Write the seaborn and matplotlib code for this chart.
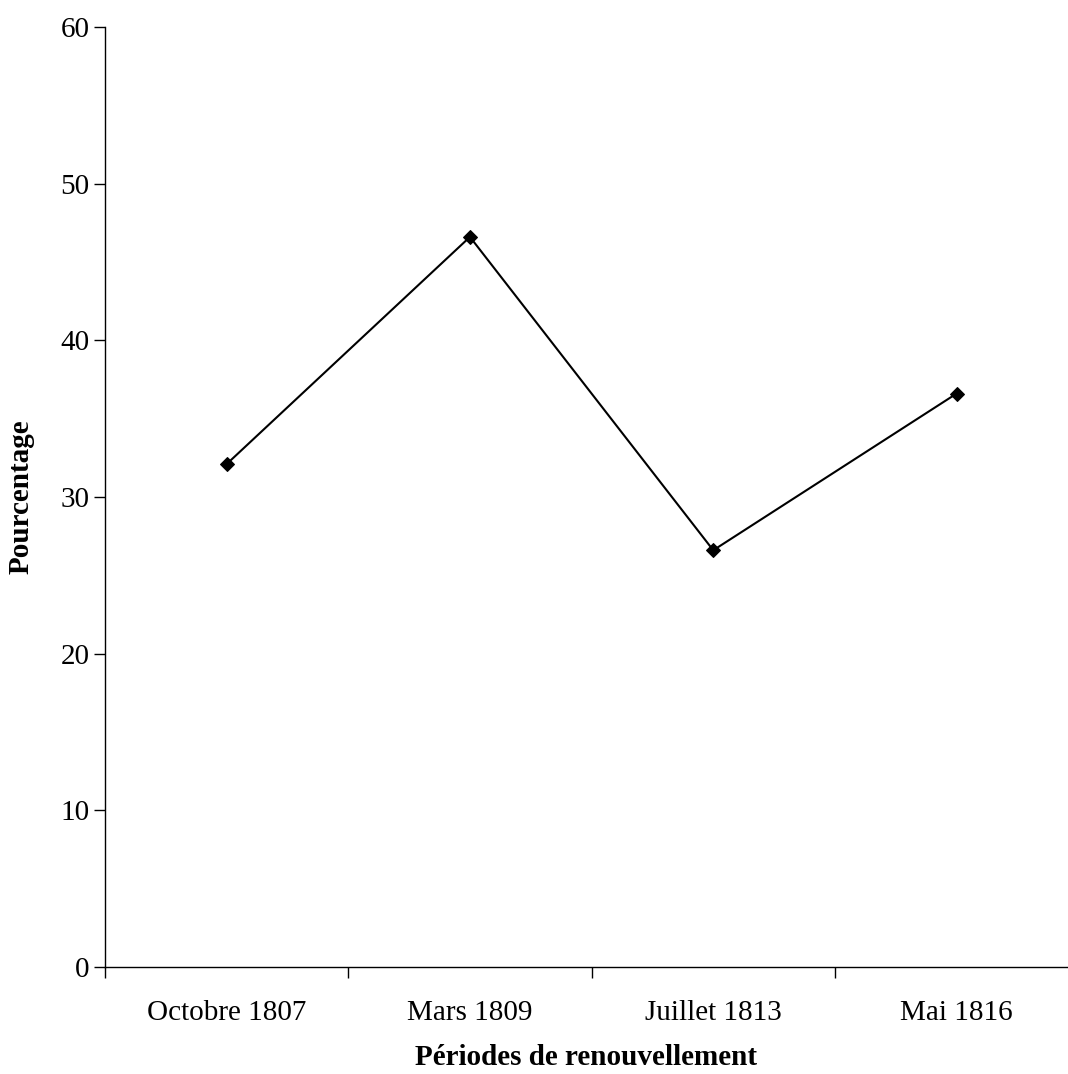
import numpy as np
import pandas as pd
import seaborn as sns
import matplotlib.pyplot as plt

periodes = ["Octobre 1807", "Mars 1809", "Juillet 1813", "Mai 1816"]
pourcentage = [32.1, 46.6, 26.6, 36.6]

sns.set_theme(style="white")
plt.rcParams['font.family'] = ['Liberation Serif', 'DejaVu Serif']
plt.rcParams.update({"text.color": "black", "axes.labelcolor": "black",
                     "xtick.color": "black", "ytick.color": "black"})

df = pd.DataFrame({"pos": np.arange(len(periodes)), "pct": pourcentage})

fig = plt.figure(figsize=(10.68, 10.74), dpi=100)
ax = fig.add_axes([0.0983, 0.0996, 0.9017, 0.8753])

sns.lineplot(data=df, x="pos", y="pct", ax=ax, color="black", linewidth=1.5,
             marker="D", markersize=7.5, markeredgecolor="black")

ax.set_yticks(range(0, 61, 10))

# ticks between categories, labels at the centres
ax.set_xticks(np.arange(-0.5, len(periodes) - 1, 1.0))
ax.set_xticklabels([])
ax.set_xticks(df["pos"], minor=True)
ax.set_xticklabels(periodes, minor=True)
ax.set_xlim(-0.5, 3.458)
ax.set_ylim(0, 60)
ax.tick_params(axis="x", which="major", direction="out", length=8, width=1, bottom=True)
ax.tick_params(axis="x", which="minor", length=0, pad=24, labelsize=21)
ax.tick_params(axis="y", direction="out", length=8, width=1, left=True, labelsize=21, pad=3)

for s in ["top", "right"]:
    ax.spines[s].set_visible(False)
for s in ["left", "bottom"]:
    ax.spines[s].set_color("black")
    ax.spines[s].set_linewidth(1)

ax.set_xlabel("Périodes de renouvellement", fontsize=21, fontweight="bold")
ax.set_ylabel("Pourcentage", fontsize=21, fontweight="bold")
ax.xaxis.set_label_coords(0.5, -0.082)
ax.yaxis.set_label_coords(-0.073, 0.5)

plt.savefig("out.png", dpi=100)
